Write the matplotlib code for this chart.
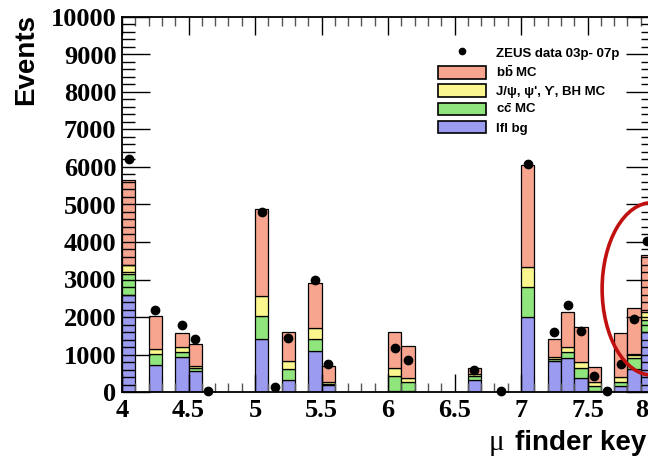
import numpy as np
import matplotlib.pyplot as plt
import matplotlib.transforms as mtransforms
from matplotlib.patches import Patch, Ellipse
from matplotlib.lines import Line2D
from matplotlib.ticker import MultipleLocator

plt.rcParams['mathtext.fontset'] = 'custom'
plt.rcParams['mathtext.rm'] = 'Liberation Sans'
plt.rcParams['mathtext.bf'] = 'Liberation Sans:bold'

# bin centres (bin width 0.1) and stacked MC contributions
centres = [4.05, 4.25, 4.45, 4.55, 5.05, 5.25, 5.45, 5.55, 6.05, 6.15, 6.65,
           7.05, 7.25, 7.35, 7.45, 7.55, 7.75, 7.85, 7.95]
lfl = [2600, 720, 930, 560, 1410, 320, 1090, 180, 30, 20, 320,
       2000, 840, 900, 370, 40, 150, 610, 1600]
ccbar = [550, 290, 140, 70, 610, 290, 320, 40, 400, 250, 100,
         800, 40, 180, 270, 130, 120, 290, 320]
jpsi = [250, 140, 130, 60, 540, 220, 300, 40, 220, 110, 50,
        530, 50, 120, 160, 100, 130, 110, 210]
bbbar = [2250, 870, 370, 590, 2320, 770, 1190, 440, 950, 850, 180,
         2720, 480, 930, 930, 400, 1170, 1230, 1520]

# ZEUS data points
data_x = [4.05, 4.25, 4.45, 4.55, 4.65, 5.05, 5.15, 5.25, 5.45, 5.55, 6.05, 6.15,
          6.65, 6.85, 7.05, 7.25, 7.35, 7.45, 7.55, 7.65, 7.75, 7.85, 7.95]
data_y = [6200, 2200, 1800, 1420, 40, 4800, 130, 1440, 3000, 750, 1170, 850,
          580, 20, 6080, 1600, 2320, 1630, 430, 40, 750, 1950, 4030]

c_bb = '#f7a58f'
c_jpsi = '#fbf68e'
c_cc = '#90e67c'
c_lfl = '#9b9cf0'

fig = plt.figure(figsize=(6.48, 4.61), dpi=100)
ax = fig.add_axes([122/648, 69/461, 532/648, 375/461])

w = 0.1
b0 = np.zeros(len(centres))
for vals, col in [(lfl, c_lfl), (ccbar, c_cc), (jpsi, c_jpsi), (bbbar, c_bb)]:
    ax.bar(centres, vals, width=w, bottom=b0, color=col, edgecolor='black', linewidth=0.9)
    b0 = b0 + np.array(vals)

ax.plot(data_x, data_y, 'o', color='black', markersize=6, zorder=5, clip_on=False)

ax.set_xlim(4, 8)
ax.set_ylim(0, 10000)
ax.xaxis.set_major_locator(MultipleLocator(0.5))
ax.xaxis.set_minor_locator(MultipleLocator(0.1))
ax.yaxis.set_major_locator(MultipleLocator(1000))
ax.yaxis.set_minor_locator(MultipleLocator(200))
ax.tick_params(which='both', direction='in', top=True, right=True, width=1.0)
ax.tick_params(axis='x', which='major', length=13)
ax.tick_params(axis='x', which='minor', length=6.5, color='#555555')
ax.tick_params(axis='y', which='major', length=20)
ax.tick_params(axis='y', which='minor', length=9.5)
ax.tick_params(axis='y', pad=4)
ax.tick_params(axis='x', pad=5)
for spine in ax.spines.values():
    spine.set_linewidth(1.3)

ax.set_xticks([4, 4.5, 5, 5.5, 6, 6.5, 7, 7.5, 8])
ax.set_xticklabels(['4', '4.5', '5', '5.5', '6', '6.5', '7', '7.5', '8'])
for lab in ax.get_xticklabels() + ax.get_yticklabels():
    lab.set_fontfamily('Liberation Serif')
    lab.set_fontweight('bold')
    lab.set_fontsize(19)
# pull the last x label in from the right edge of the figure
last = ax.get_xticklabels()[-1]
last.set_transform(last.get_transform() + mtransforms.ScaledTranslation(-0.12, 0, fig.dpi_scale_trans))

fig.text(26/648, 1 - 14/461, 'Events', rotation=90, ha='center', va='top',
         fontsize=20, fontweight='bold', family='Liberation Sans')
# axis title: serif mu followed by the sans text
fig.text(646/648, 1 - 450/461, 'finder key', ha='right', va='baseline',
         fontsize=20, fontweight='bold', family='Liberation Sans')
fig.text(504/648, 1 - 450/461, '\u03bc', ha='right', va='baseline',
         fontsize=21, family='Liberation Serif')

handles = [
    Line2D([], [], marker='o', linestyle='none', color='black', markersize=4.5),
    Patch(facecolor=c_bb, edgecolor='black', linewidth=1.2),
    Patch(facecolor=c_jpsi, edgecolor='black', linewidth=1.2),
    Patch(facecolor=c_cc, edgecolor='black', linewidth=1.2),
    Patch(facecolor=c_lfl, edgecolor='black', linewidth=1.2),
]
labels = ['ZEUS data 03p- 07p', r'$\mathbf{b\bar{b}}$ MC',
          'J/\u03c8, \u03c8\', \u03d2, BH MC', r'$\mathbf{c\bar{c}}$ MC', 'lfl bg']
leg = ax.legend(handles, labels, loc='upper left', bbox_to_anchor=(438/648, 1 - 46/461),
                bbox_transform=fig.transFigure, frameon=False, borderpad=0, borderaxespad=0,
                handlelength=3.6, handleheight=1.1, handletextpad=0.8, labelspacing=0.33,
                prop={'family': ['Liberation Sans', 'DejaVu Sans'], 'weight': 'bold', 'size': 9.5})

ell = Ellipse((7.985, 2750), 0.75, 4600, fill=False, edgecolor='#c01010',
              linewidth=2.6, clip_on=False, zorder=6)
ax.add_patch(ell)

fig.savefig('out.png', dpi=100)
